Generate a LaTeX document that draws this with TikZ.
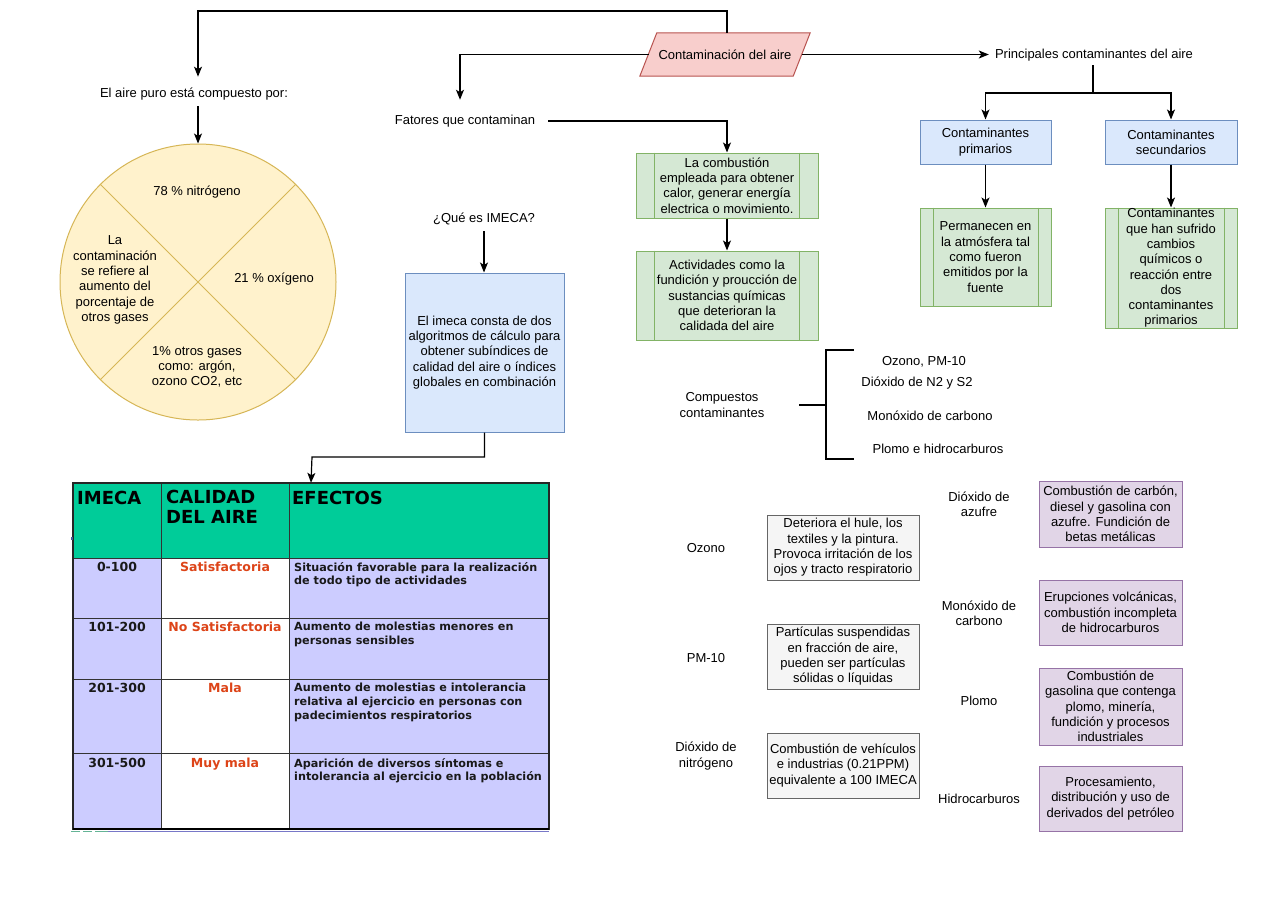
\documentclass[tikz,border=0pt]{standalone}
\usepackage{fontspec}
\setmainfont{Liberation Sans}
\newfontfamily\verd{DejaVu Sans}
\usetikzlibrary{arrows.meta}
\definecolor{pinkF}{HTML}{F8CECC}\definecolor{pinkD}{HTML}{B85450}
\definecolor{blueF}{HTML}{DAE8FC}\definecolor{blueD}{HTML}{6C8EBF}
\definecolor{greenF}{HTML}{D5E8D4}\definecolor{greenD}{HTML}{82B366}
\definecolor{yelF}{HTML}{FFF2CC}\definecolor{yelD}{HTML}{D6B656}
\definecolor{grayF}{HTML}{F5F5F5}\definecolor{grayD}{HTML}{666666}
\definecolor{purF}{HTML}{E1D5E7}\definecolor{purD}{HTML}{9673A6}
\definecolor{tealF}{HTML}{00CC99}
\definecolor{lavF}{HTML}{CCCCFF}
\definecolor{redT}{HTML}{DD4418}
\definecolor{tabD}{HTML}{333333}
\definecolor{shadB}{HTML}{7878C8}
\definecolor{artG}{HTML}{64B496}
\definecolor{artB}{HTML}{465A96}
\tikzset{
  lbl/.style={font=\fontsize{13}{15.3}\selectfont, align=center, inner sep=0pt},
  arr/.style={line width=1.2pt, -{Stealth[length=10pt,width=8pt,inset=2.5pt]}},
  bxsz/.style 2 args={minimum width=#1pt, minimum height=#2pt},
  bluebox/.style={lbl, draw=blueD, fill=blueF, line width=1pt},
  greenbox/.style={lbl, draw=greenD, fill=greenF, line width=1pt},
  graybox/.style={lbl, draw=grayD, fill=grayF, line width=1pt},
  purbox/.style={lbl, draw=purD, fill=purF, line width=1pt},
  tabhead/.style={font=\verd\bfseries\fontsize{18}{20}\selectfont, align=left, inner sep=0pt, text=black},
  tabnum/.style={font=\verd\bfseries\fontsize{12.5}{14}\selectfont, inner sep=0pt, text=black!90},
  tabqual/.style={font=\verd\bfseries\fontsize{12.5}{14}\selectfont, inner sep=0pt, text=redT},
  tabeff/.style={font=\verd\bfseries\fontsize{11.2}{13.8}\selectfont, align=left, inner sep=0pt, text=black!90},
}
\begin{document}
\begin{tikzpicture}[x=1pt,y=-1pt]
\useasboundingbox (0,0) rectangle (1280,906);
\fill[white] (0,0) rectangle (1280,906);

% central parallelogram
\node[minimum width=170pt, minimum height=43pt, inner sep=0pt] (cont) at (725,54.5) {};
\draw[draw=pinkD, fill=pinkF, line width=1pt] (cont.south west) -- ([xshift=17pt]cont.north west) -- (cont.north east) -- ([xshift=-17pt]cont.south east) -- cycle;
\node[lbl] (contlbl) at (cont.center) {Contaminación del aire};

% top-level labels
\node[lbl] (aire) at (194,94) {El aire puro está compuesto por:};
\node[lbl] (fat) at (465,121) {Fatores que contaminan};
\node[lbl] (princ) at (1094,55) {Principales contaminantes del aire};
\node[lbl] (que) at (484,219) {¿Qué es IMECA?};

% circle
\node[circle, draw=yelD, fill=yelF, line width=1pt, minimum size=276pt, inner sep=0pt] (circ) at (198,282) {};
\draw[yelD, line width=1pt] (circ.north west) -- (circ.south east);
\draw[yelD, line width=1pt] (circ.north east) -- (circ.south west);

\coordinate (jtop) at (727,11);
\draw[arr] (cont.north -| jtop) -- (jtop) -| ([yshift=11pt]aire.north -| circ.north);
\draw[arr] ([xshift=9pt]cont.west) -| ([xshift=-5pt,yshift=15pt]fat.north);
\draw[arr] ([xshift=-8pt]cont.east) -- ([xshift=-6pt]cont.east -| princ.west);
\draw[arr] ([yshift=-6pt]aire.south -| circ.north) -- (circ.north);

\node[lbl] (n78) at (197,192) {78 \% nitrógeno};
\node[lbl] (n21) at (274,279) {21 \% oxígeno};
\node[lbl] (nla) at (115,280) {La\\contaminación\\se refiere al\\aumento del\\porcentaje de\\otros gases};
\node[lbl] (n1) at (197,367) {1\% otros gases\\como: argón,\\ozono CO2, etc};

% factors
\node[greenbox, bxsz={182}{65}] (comb1) at (727,185.5) {La combustión\\empleada para obtener\\calor, generar energía\\electrica o movimiento.};
\node[greenbox, bxsz={182}{89}] (comb2) at (727,295.5) {Actividades como la\\fundición y proucción de\\sustancias químicas\\que deterioran la\\calidada del aire};
\foreach \n in {comb1,comb2}{
  \draw[greenD, line width=1pt] ([xshift=19pt]\n.north west) -- ([xshift=19pt]\n.south west);
  \draw[greenD, line width=1pt] ([xshift=-19pt]\n.north east) -- ([xshift=-19pt]\n.south east);
}
\draw[arr] ([xshift=13pt]fat.east) -| (comb1.north);
\draw[arr] (comb1.south) -- (comb2.south |- comb2.north);

% IMECA box
\node[bluebox, bxsz={159}{159}] (imbox) at (484.5,352.5) {El imeca consta de dos\\algoritmos de cálculo para\\obtener subíndices de\\calidad del aire o índices\\globales en combinación};
\draw[arr] ([yshift=-6pt]que.south) -- (que.south |- imbox.north);

% principal contaminants
\node[bluebox, bxsz={131}{44}] (prim) at (985.5,142) {Contaminantes\\primarios};
\node[bluebox, bxsz={132}{44}] (sec) at (1171,142) {Contaminantes\\secundarios};
\coordinate (jpr) at (1093,93);
\draw[line width=1.2pt] ([yshift=-4pt]princ.south -| jpr) -- (jpr);
\draw[arr] (jpr) -| (prim.north);
\draw[arr] (jpr) -| (sec.north);
\node[greenbox, bxsz={131}{98}] (primd) at (985.5,257) {Permanecen en\\la atmósfera tal\\como fueron\\emitidos por la\\fuente};
\node[greenbox, bxsz={132}{120}] (secd) at (1171,268) {Contaminantes\\que han sufrido\\cambios\\químicos o\\reacción entre\\dos\\contaminantes\\primarios};
\foreach \n in {primd,secd}{
  \draw[greenD, line width=1pt] ([xshift=13.5pt]\n.north west) -- ([xshift=13.5pt]\n.south west);
  \draw[greenD, line width=1pt] ([xshift=-13.5pt]\n.north east) -- ([xshift=-13.5pt]\n.south east);
}
\draw[arr] (prim.south) -- (primd.north);
\draw[arr] (sec.south) -- (secd.north);

% compuestos bracket
\node[lbl] (comp) at (722,405) {Compuestos\\contaminantes};
\coordinate (bm) at (799,405);
\coordinate (bt) at (853,350);
\coordinate (bb) at (853,459);
\draw[line width=2.5pt] (bm) -- (826,405);
\draw[line width=2.5pt, line cap=rect] (bt) -- (826,350) -- (826,459) -- (bb);
\node[lbl] (c1) at (924,362) {Ozono, PM-10};
\node[lbl] (c2) at (917,383) {Dióxido de N2 y S2};
\node[lbl] (c3) at (930,416) {Monóxido de carbono};
\node[lbl] (c4) at (938,449) {Plomo e hidrocarburos};

% pollutant descriptions
\node[lbl] (l1) at (706,548) {Ozono};
\node[graybox, bxsz={152}{65}] (d1) at (843,547.5) {Deteriora el hule, los\\textiles y la pintura.\\Provoca irritación de los\\ojos y tracto respiratorio};
\node[lbl] (l2) at (706,658) {PM-10};
\node[graybox, bxsz={152}{65}] (d2) at (843,656.5) {Partículas suspendidas\\en fracción de aire,\\pueden ser partículas\\sólidas o líquidas};
\node[lbl] (l3) at (706,756) {Dióxido de\\nitrógeno};
\node[graybox, bxsz={152}{65}] (d3) at (843,765.5) {Combustión de vehículos\\e industrias (0.21PPM)\\equivalente a 100 IMECA};

\node[lbl] (l4) at (979,504) {Dióxido de\\azufre};
\node[purbox, bxsz={143}{66}] (d4) at (1110.5,514) {Combustión de carbón,\\diesel y gasolina con\\azufre. Fundición de\\betas metálicas};
\node[lbl] (l5) at (979,613) {Monóxido de\\carbono};
\node[purbox, bxsz={143}{65}] (d5) at (1110.5,612.5) {Erupciones volcánicas,\\combustión incompleta\\de hidrocarburos};
\node[lbl] (l6) at (979,701) {Plomo};
\node[purbox, bxsz={143}{77}] (d6) at (1110.5,706.5) {Combustión de\\gasolina que contenga\\plomo, minería,\\fundición y procesos\\industriales};
\node[lbl] (l7) at (979,799) {Hidrocarburos};
\node[purbox, bxsz={143}{65}] (d7) at (1110.5,798.5) {Procesamiento,\\distribución y uso de\\derivados del petróleo};

% IMECA table
\node[minimum width=476pt, minimum height=346pt, inner sep=0pt] (tab) at (311,656) {};
\fill[tealF] (73,483) rectangle (549,558);
\fill[lavF] (73,558) rectangle (161,829);
\fill[white] (161,558) rectangle (289,829);
\fill[lavF] (289,558) rectangle (549,829);
\draw[tabD, line width=0.9pt] (161,483) -- (161,829) (289,483) -- (289,829)
  (73,558) -- (549,558) (73,618) -- (549,618) (73,679) -- (549,679) (73,753.5) -- (549,753.5);
\draw[black!85, line width=1.6pt] (tab.north west) rectangle (tab.south east);
\draw[black, line width=2.2pt] (73,829) -- (549,829);
\draw[shadB, line width=1pt] (108,831.5) -- (549,831.5);
\draw[artG, line width=1.2pt] (71,831.5) -- (80,831.5) (83,831.5) -- (92,831.5) (95,831.5) -- (108,831.5);
\fill[artB] (70.5,536.5) rectangle (72.5,539.5);
\coordinate (jim) at (312,457);
\draw[arr] (imbox.south) |- (jim) -- (tab.north);

\node[tabhead, anchor=west] (h1) at (77,497.5) {IMECA};
\node[tabhead, anchor=north west] (h2) at (166,490) {CALIDAD\\DEL AIRE};
\node[tabhead, anchor=west] (h3) at (292,497.5) {EFECTOS};

\node[tabnum, anchor=north] (r1a) at (117,562) {0-100};
\node[tabqual, anchor=north] (r1b) at (225,562) {Satisfactoria};
\node[tabeff, anchor=north west] (r1c) at (294,562) {Situación favorable para la realización\\de todo tipo de actividades};
\node[tabnum, anchor=north] (r2a) at (117,622) {101-200};
\node[tabqual, anchor=north] (r2b) at (225,622) {No Satisfactoria};
\node[tabeff, anchor=north west] (r2c) at (294,622) {Aumento de molestias menores en\\personas sensibles};
\node[tabnum, anchor=north] (r3a) at (117,683) {201-300};
\node[tabqual, anchor=north] (r3b) at (225,683) {Mala};
\node[tabeff, anchor=north west] (r3c) at (294,683) {Aumento de molestias e intolerancia\\relativa al ejercicio en personas con\\padecimientos respiratorios};
\node[tabnum, anchor=north] (r4a) at (117,758) {301-500};
\node[tabqual, anchor=north] (r4b) at (225,758) {Muy mala};
\node[tabeff, anchor=north west] (r4c) at (294,758) {Aparición de diversos síntomas e\\intolerancia al ejercicio en la población};
\end{tikzpicture}
\end{document}
